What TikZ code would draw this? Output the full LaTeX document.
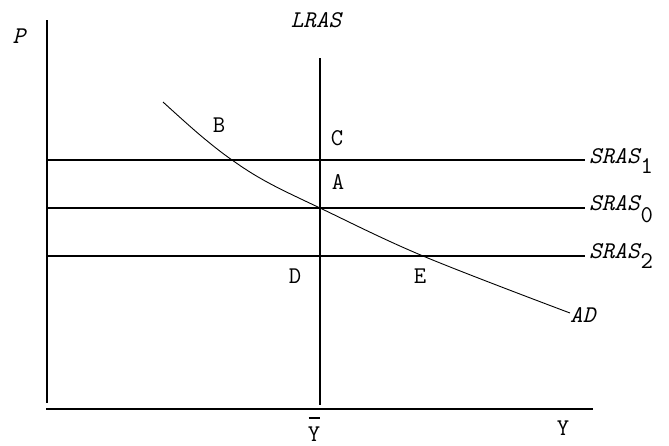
\documentclass[tikz,border=0pt]{standalone}
\usepackage{fontspec}
\begin{document}
\begin{tikzpicture}[x=1pt,y=-1pt,
  lbl/.style={font=\fontsize{24}{24}\selectfont\ttfamily, inner sep=0pt, anchor=base},
  itl/.style={lbl, font=\fontsize{24}{24}\selectfont\ttfamily\itshape},
  axisline/.style={line width=1.8pt},
  srasline/.style={line width=1.4pt},
  adcurve/.style={line width=0.9pt}]
\useasboundingbox (0,0) rectangle (669,445);
% coordinates
\coordinate (ytop) at (47,20);
\coordinate (ybot) at (47,403);
\coordinate (xl) at (46,409);
\coordinate (xr) at (593,409);
\coordinate (ltop) at (320,58);
\coordinate (lbot) at (320,405);
\coordinate (s1l) at (47,160);
\coordinate (s1r) at (585,160);
\coordinate (s0l) at (47,208);
\coordinate (s0r) at (585,208);
\coordinate (s2l) at (47,256);
\coordinate (s2r) at (585,256);
% axes and lines
\draw[axisline] (ytop) -- (ybot);
\draw[axisline] (xl) -- (xr);
\draw[axisline] (ltop) -- (lbot);
\draw[srasline] (s1l) -- (s1r);
\draw[srasline] (s0l) -- (s0r);
\draw[srasline] (s2l) -- (s2r);
\draw[adcurve] plot[smooth, tension=0.6] coordinates {(163,102) (200,135) (232,160) (267,182) (320,208) (423,256) (570,313)};
% labels
\node[itl] (P) at (19,43) {P};
\node[itl] (LRAS) at (316,27) {LRAS};
\node[itl, anchor=base west] (S1) at (589,163) {SRAS\kern1pt\raisebox{-10pt}{\upshape 1}};
\node[itl, anchor=base west] (S0) at (589,210) {SRAS\kern1pt\raisebox{-12pt}{\upshape 0}};
\node[itl, anchor=base west] (S2) at (589,258) {SRAS\kern1pt\raisebox{-10pt}{\upshape 2}};
\node[itl, anchor=base west] (AD) at (570,322) {AD};
\node[lbl] (B) at (219,132) {B};
\node[lbl] (C) at (337,145) {C};
\node[lbl] (A) at (338,189) {A};
\node[lbl] (D) at (295,283) {D};
\node[lbl] (E) at (420,283) {E};
\node[lbl] (Ybar) at (314,441) {\ooalign{Y\cr\hidewidth\raisebox{22pt}{\rule{11pt}{1.6pt}}\hidewidth}};
\node[lbl] (Y) at (563,435) {Y};
\end{tikzpicture}
\end{document}
